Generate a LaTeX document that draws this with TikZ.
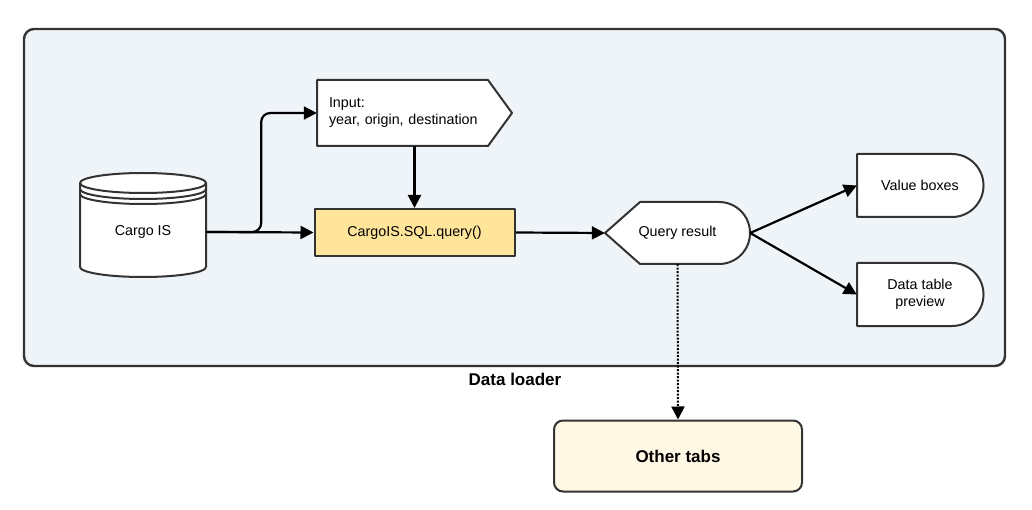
\documentclass[tikz,border=0pt]{standalone}
\usepackage{fontspec}
\setmainfont{Liberation Sans}
\usepackage{xcolor}
\usetikzlibrary{arrows.meta}
\definecolor{panelfill}{RGB}{239,244,249}
\definecolor{queryfill}{RGB}{255,229,153}
\definecolor{tabsfill}{RGB}{255,248,229}
\definecolor{edge}{RGB}{51,51,51}

\begin{document}
\begin{tikzpicture}[x=1pt, y=-1pt,
    every node/.style={font=\fontsize{14.3}{17}\selectfont, inner sep=0pt},
    outline/.style={draw=edge, line width=2pt, line join=round},
    boldlbl/.style={font=\fontsize{17}{20}\selectfont\bfseries},
    flow/.style={-{Triangle[length=13pt, width=13pt]}, line width=2.2pt}]
    \useasboundingbox (0,0) rectangle (1032,510);
    % Data loader panel
    \node[outline, fill=panelfill, rounded corners=10pt, line width=2.4pt,
          minimum width=981, minimum height=337] (loader) at (514.5,197.5) {};
    \node[boldlbl] (loadername) at (515,379) {Data loader};
    % Cargo IS data store
    \draw[outline, fill=white] (80,183) -- (80,267)
        arc[start angle=180, end angle=0, x radius=63, y radius=10] -- (206,183);
    \draw[outline, fill=white] (143,183) ellipse [x radius=63, y radius=10];
    \draw[outline] (80,189) arc[start angle=180, end angle=0, x radius=63, y radius=10];
    \draw[outline] (80,194) arc[start angle=180, end angle=0, x radius=63, y radius=10];
    \node[minimum width=126, minimum height=40] (cargo) at (143,232) {Cargo IS};
    % Input
    \draw[outline, fill=white] (317,80) -- (488,80) -- (512,113) -- (488,146) -- (317,146) -- cycle;
    \node[text width=171, inner xsep=12pt, minimum height=66, align=left] (input) at (414.5,113)
        {Input:\\year, origin, destination};
    % SQL query
    \node[outline, fill=queryfill, minimum width=200, minimum height=47] (query) at (414.5,232.5)
        {CargoIS.SQL.query()};
    % Query result
    \draw[outline, fill=white] (605,233) -- (640,202) -- (719,202)
        arc[start angle=-90, end angle=90, radius=31] -- (640,264) -- cycle;
    \node[minimum width=145, minimum height=62] (result) at (677.5,233) {Query result};
    % Value boxes
    \draw[outline, fill=white] (857,154) -- (952,154)
        arc[start angle=-90, end angle=90, radius=31.5] -- (857,217) -- cycle;
    \node[minimum width=126, minimum height=63] (values) at (920,185.5) {Value boxes};
    % Data table preview
    \draw[outline, fill=white] (857,263) -- (952,263)
        arc[start angle=-90, end angle=90, radius=31.5] -- (857,326) -- cycle;
    \node[minimum width=126, minimum height=63, align=center] (preview) at (920,294.5)
        {Data table\\preview};
    % Other tabs
    \node[outline, fill=tabsfill, rounded corners=9pt, boldlbl,
          minimum width=248, minimum height=71] (tabs) at (678,456) {Other tabs};
    % connectors
    \draw[flow] (cargo.east) -- (query.west);
    \draw[flow, rounded corners=9pt] (cargo.east) -- ++(55,0) |- (input.west);
    \draw[flow] (input.south) -- (query.north);
    \draw[flow] (query.east) -- (result.west);
    \draw[flow] (result.east) -- (values.west);
    \draw[flow] (result.east) -- (preview.west);
    \draw[flow, line width=2pt, dash pattern=on 2pt off 1.5pt] (result.south) -- (tabs.north);
\end{tikzpicture}
\end{document}
